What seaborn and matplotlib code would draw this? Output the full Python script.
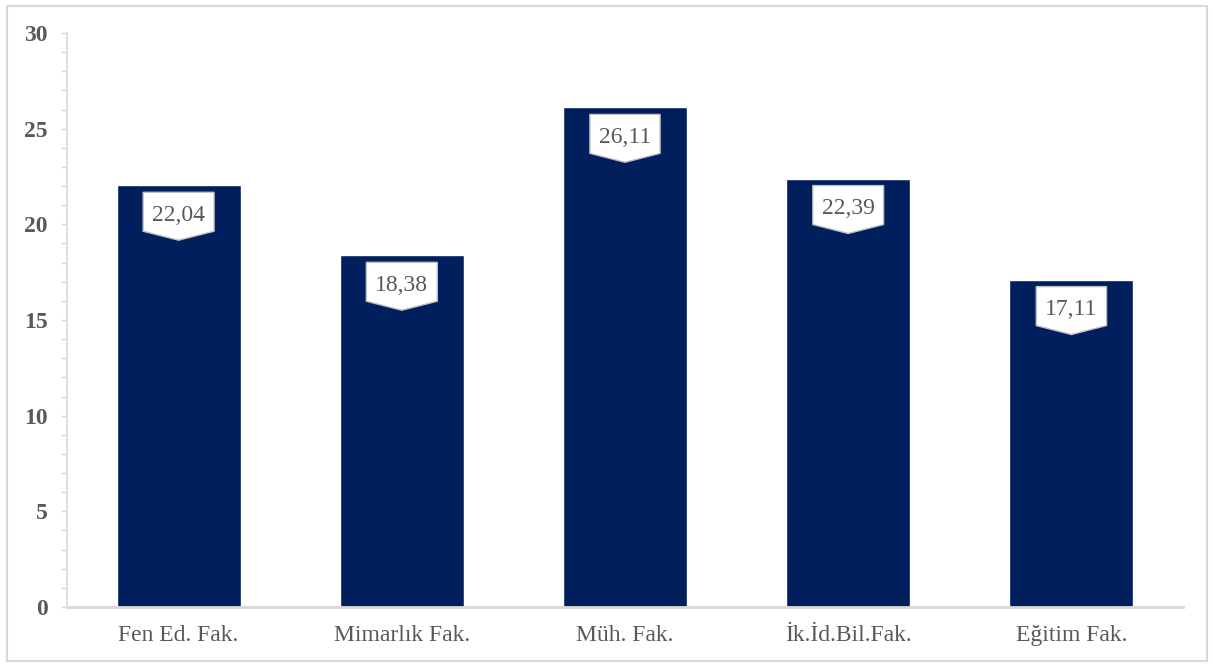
import pandas as pd
import matplotlib
matplotlib.use("Agg")
import matplotlib.pyplot as plt
import seaborn as sns
from matplotlib.path import Path
from matplotlib.patches import Rectangle
from matplotlib.ticker import MultipleLocator

sns.set_style("white")
plt.rcParams['font.family'] = ['Liberation Serif', 'DejaVu Serif']

faculties = ["Fen Ed. Fak.", "Mimarlık Fak.", "Müh. Fak.", "İk.İd.Bil.Fak.", "Eğitim Fak."]
values = [22.04, 18.38, 26.11, 22.39, 17.11]
value_labels = ["22,04", "18,38", "26,11", "22,39", "17,11"]

GREY = "#595959"
LINE = "#d9d9d9"


def callout(x0, y0, width, height, mutation_size):
    # white label box with a downward point, like the Excel "callout" labels
    px = 0.38 * mutation_size
    pt = 0.53 * mutation_size
    pb = 0.23 * mutation_size
    tip = 0.38 * mutation_size
    l, r = x0 - px, x0 + width + px
    b, t = y0 - pb, y0 + height + pt
    mid = (l + r) / 2
    return Path([(l, t), (r, t), (r, b), (mid, b - tip), (l, b), (l, t)], closed=True)


df = pd.DataFrame({"fakulte": faculties, "deger": values})

fig = plt.figure(figsize=(12.13, 6.66), dpi=100)
ax = fig.add_axes([67 / 1213, 1 - 607 / 666, (1183 - 67) / 1213, (607 - 33) / 666])
sns.barplot(data=df, x="fakulte", y="deger", color="#001f5c", width=0.556,
            saturation=1, ax=ax)

for i, (v, s) in enumerate(zip(values, value_labels)):
    ax.annotate(s, xy=(i, v), xytext=(0, -21.6), textcoords="offset points",
                ha="center", va="center", fontsize=17, color=GREY,
                bbox=dict(boxstyle=callout, fc="white", ec="#bfbfbf", lw=1))

ax.set_xlim(-0.5, 4.5)
ax.set_ylim(0, 30)
ax.yaxis.set_major_locator(MultipleLocator(5))
ax.yaxis.set_minor_locator(MultipleLocator(1))
ax.set_xlabel("")
ax.set_ylabel("")

for side in ["top", "right"]:
    ax.spines[side].set_visible(False)
ax.spines["left"].set_color(LINE)
ax.spines["left"].set_linewidth(1.2)
ax.spines["bottom"].set_color(LINE)
ax.spines["bottom"].set_linewidth(2)

ax.tick_params(axis="y", which="both", direction="out", length=4, width=1,
               color=LINE, left=True, labelsize=17, labelcolor=GREY, pad=10)
ax.tick_params(axis="x", length=0, labelsize=17, labelcolor=GREY, pad=13)
for lab in ax.get_yticklabels():
    lab.set_fontweight("bold")

fig.patches.append(Rectangle((7 / 1213, 5 / 666), 1200 / 1213, 655 / 666,
                             transform=fig.transFigure, fill=False,
                             ec=LINE, lw=1.5))

plt.savefig("out.png", dpi=100)
